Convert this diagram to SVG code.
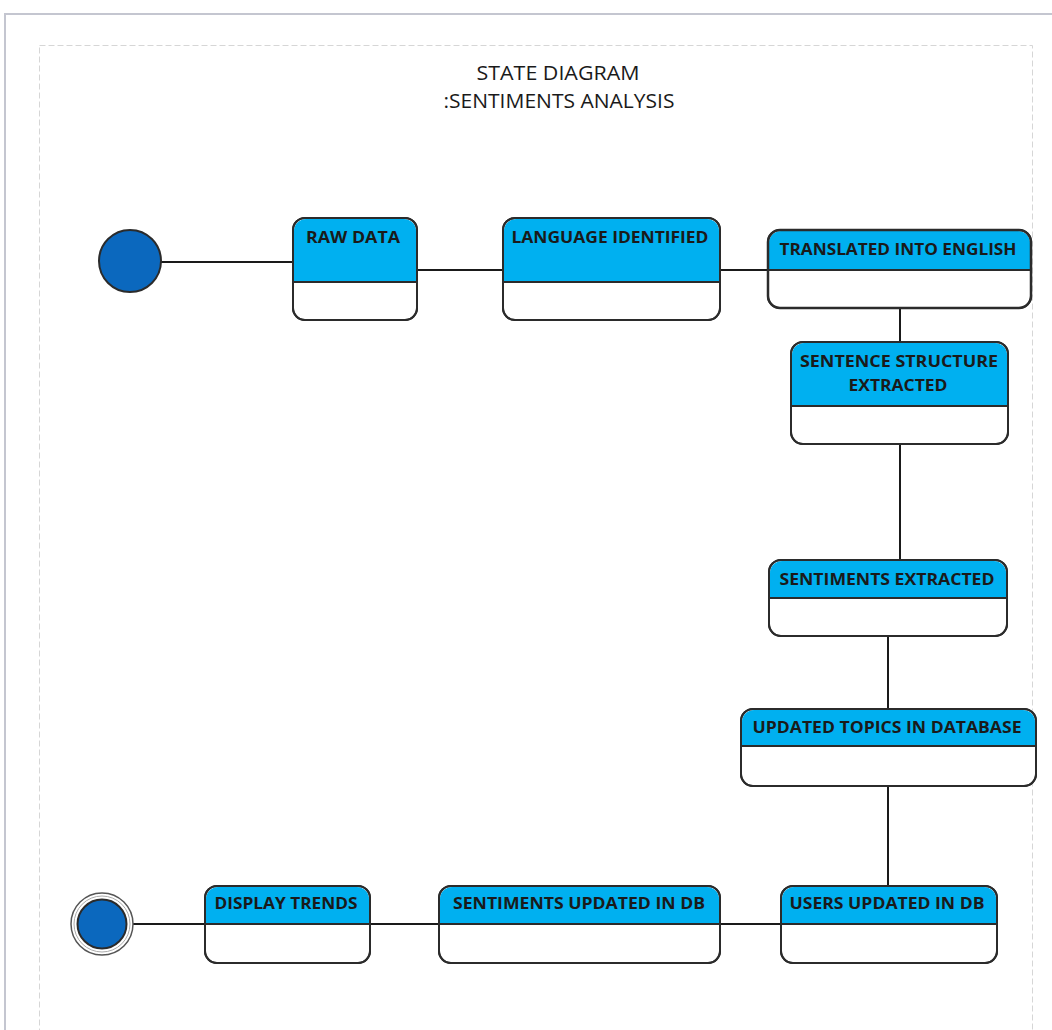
<svg xmlns="http://www.w3.org/2000/svg" width="1052" height="1030" viewBox="0 0 1052 1030">
  <style>
    .page { fill: #ffffff; stroke: #c4c6d0; stroke-width: 2; }
    .frame { fill: none; stroke: #d6d6d6; stroke-width: 1; stroke-dasharray: 6 3; }
    .title { font-family: "Open Sans", "Liberation Sans", sans-serif; font-size: 20px; fill: #1a1a1a; text-anchor: middle; }
    .body { fill: #ffffff; stroke: #2b2b2b; stroke-width: 2; }
    .outline { fill: none; stroke: #2b2b2b; stroke-width: 2; }
    .head { fill: #00b0f0; }
    .div { stroke: #2b2b2b; stroke-width: 2; }
    .label { font-family: "Open Sans", "Liberation Sans", sans-serif; font-size: 16px; font-weight: bold; fill: #1a1a1a; text-anchor: middle; }
    .conn line { stroke: #1a1a1a; stroke-width: 2; }
    .dot { fill: #0b68be; stroke: #2b2b2b; stroke-width: 2; }
  </style>

  <!-- page and dashed diagram frame -->
  <rect class="page" x="5" y="14" width="1060" height="1030"/>
  <rect class="frame" x="39.5" y="45.5" width="993" height="1000"/>

  <text class="title" x="558" y="80" textLength="163" lengthAdjust="spacingAndGlyphs">STATE DIAGRAM</text>
  <text class="title" x="559" y="108" textLength="231" lengthAdjust="spacingAndGlyphs">:SENTIMENTS ANALYSIS</text>

  <!-- transitions -->
  <g id="connectors" class="conn">
    <line x1="161" y1="262" x2="293" y2="262"/>
    <line x1="417" y1="270" x2="503" y2="270"/>
    <line x1="720" y1="270" x2="768" y2="270"/>
    <line x1="900" y1="308" x2="900" y2="342"/>
    <line x1="900" y1="444" x2="900" y2="560"/>
    <line x1="888" y1="636" x2="888" y2="709"/>
    <line x1="888" y1="786" x2="888" y2="886"/>
    <line x1="720" y1="924" x2="781" y2="924"/>
    <line x1="370" y1="924" x2="439" y2="924"/>
    <line x1="133" y1="924" x2="205" y2="924"/>
  </g>

  <!-- initial state -->
  <g id="initial">
    <circle class="dot" cx="130" cy="261" r="31"/>
  </g>

  <g id="raw-data">
    <rect class="body" x="293" y="218" width="124" height="102" rx="12"/>
    <path class="head" d="M306,219 H404 A12,12 0 0 1 416,231 V282 H294 V231 A12,12 0 0 1 306,219 Z"/>
    <rect class="outline" x="293" y="218" width="124" height="102" rx="12"/>
    <line class="div" x1="293" y1="282" x2="417" y2="282"/>
    <text class="label" x="353" y="243" textLength="94" lengthAdjust="spacingAndGlyphs">RAW DATA</text>
  </g>

  <g id="language-identified">
    <rect class="body" x="503" y="218" width="217" height="102" rx="12"/>
    <path class="head" d="M516,219 H707 A12,12 0 0 1 719,231 V282 H504 V231 A12,12 0 0 1 516,219 Z"/>
    <rect class="outline" x="503" y="218" width="217" height="102" rx="12"/>
    <line class="div" x1="503" y1="282" x2="720" y2="282"/>
    <text class="label" x="610" y="243" textLength="197" lengthAdjust="spacingAndGlyphs">LANGUAGE IDENTIFIED</text>
  </g>

  <g id="translated">
    <rect class="body" x="768" y="230" width="263" height="78" rx="12"/>
    <path class="head" d="M781,231 H1018 A12,12 0 0 1 1030,243 V270 H769 V243 A12,12 0 0 1 781,231 Z"/>
    <rect class="outline" x="768" y="230" width="263" height="78" rx="12" style="stroke-width:2.5"/>
    <line class="div" x1="768" y1="270" x2="1031" y2="270"/>
    <text class="label" x="898" y="255" textLength="237" lengthAdjust="spacingAndGlyphs">TRANSLATED INTO ENGLISH</text>
  </g>

  <g id="sentence-structure">
    <rect class="body" x="791" y="342" width="217" height="102" rx="12"/>
    <path class="head" d="M804,343 H995 A12,12 0 0 1 1007,355 V406 H792 V355 A12,12 0 0 1 804,343 Z"/>
    <rect class="outline" x="791" y="342" width="217" height="102" rx="12"/>
    <line class="div" x1="791" y1="406" x2="1008" y2="406"/>
    <text class="label" x="899" y="367" textLength="198" lengthAdjust="spacingAndGlyphs">SENTENCE STRUCTURE</text>
    <text class="label" x="898" y="391" textLength="99" lengthAdjust="spacingAndGlyphs">EXTRACTED</text>
  </g>

  <g id="sentiments-extracted">
    <rect class="body" x="769" y="560" width="238" height="76" rx="12"/>
    <path class="head" d="M782,561 H994 A12,12 0 0 1 1006,573 V598 H770 V573 A12,12 0 0 1 782,561 Z"/>
    <rect class="outline" x="769" y="560" width="238" height="76" rx="12"/>
    <line class="div" x1="769" y1="598" x2="1007" y2="598"/>
    <text class="label" x="887" y="585" textLength="215" lengthAdjust="spacingAndGlyphs">SENTIMENTS EXTRACTED</text>
  </g>

  <g id="updated-topics">
    <rect class="body" x="741" y="709" width="295" height="77" rx="12"/>
    <path class="head" d="M754,710 H1023 A12,12 0 0 1 1035,722 V746 H742 V722 A12,12 0 0 1 754,710 Z"/>
    <rect class="outline" x="741" y="709" width="295" height="77" rx="12"/>
    <line class="div" x1="741" y1="746" x2="1036" y2="746"/>
    <text class="label" x="887" y="733" textLength="269" lengthAdjust="spacingAndGlyphs">UPDATED TOPICS IN DATABASE</text>
  </g>

  <g id="users-updated">
    <rect class="body" x="781" y="886" width="216" height="77" rx="12"/>
    <path class="head" d="M794,887 H984 A12,12 0 0 1 996,899 V924 H782 V899 A12,12 0 0 1 794,887 Z"/>
    <rect class="outline" x="781" y="886" width="216" height="77" rx="12"/>
    <line class="div" x1="781" y1="924" x2="997" y2="924"/>
    <text class="label" x="887" y="909" textLength="195" lengthAdjust="spacingAndGlyphs">USERS UPDATED IN DB</text>
  </g>

  <g id="sentiments-updated">
    <rect class="body" x="439" y="886" width="281" height="77" rx="12"/>
    <path class="head" d="M452,887 H707 A12,12 0 0 1 719,899 V924 H440 V899 A12,12 0 0 1 452,887 Z"/>
    <rect class="outline" x="439" y="886" width="281" height="77" rx="12"/>
    <line class="div" x1="439" y1="924" x2="720" y2="924"/>
    <text class="label" x="579" y="909" textLength="252" lengthAdjust="spacingAndGlyphs">SENTIMENTS UPDATED IN DB</text>
  </g>

  <g id="display-trends">
    <rect class="body" x="205" y="886" width="165" height="77" rx="12"/>
    <path class="head" d="M218,887 H357 A12,12 0 0 1 369,899 V924 H206 V899 A12,12 0 0 1 218,887 Z"/>
    <rect class="outline" x="205" y="886" width="165" height="77" rx="12"/>
    <line class="div" x1="205" y1="924" x2="370" y2="924"/>
    <text class="label" x="286" y="909" textLength="143" lengthAdjust="spacingAndGlyphs">DISPLAY TRENDS</text>
  </g>

  <!-- final state -->
  <g id="final">
    <circle cx="102" cy="924" r="31" fill="#ffffff" stroke="#555555" stroke-width="1.5"/>
    <circle cx="102" cy="924" r="28" fill="none" stroke="#aaaaaa" stroke-width="1"/>
    <circle class="dot" cx="102" cy="924" r="24.5"/>
  </g>
</svg>
